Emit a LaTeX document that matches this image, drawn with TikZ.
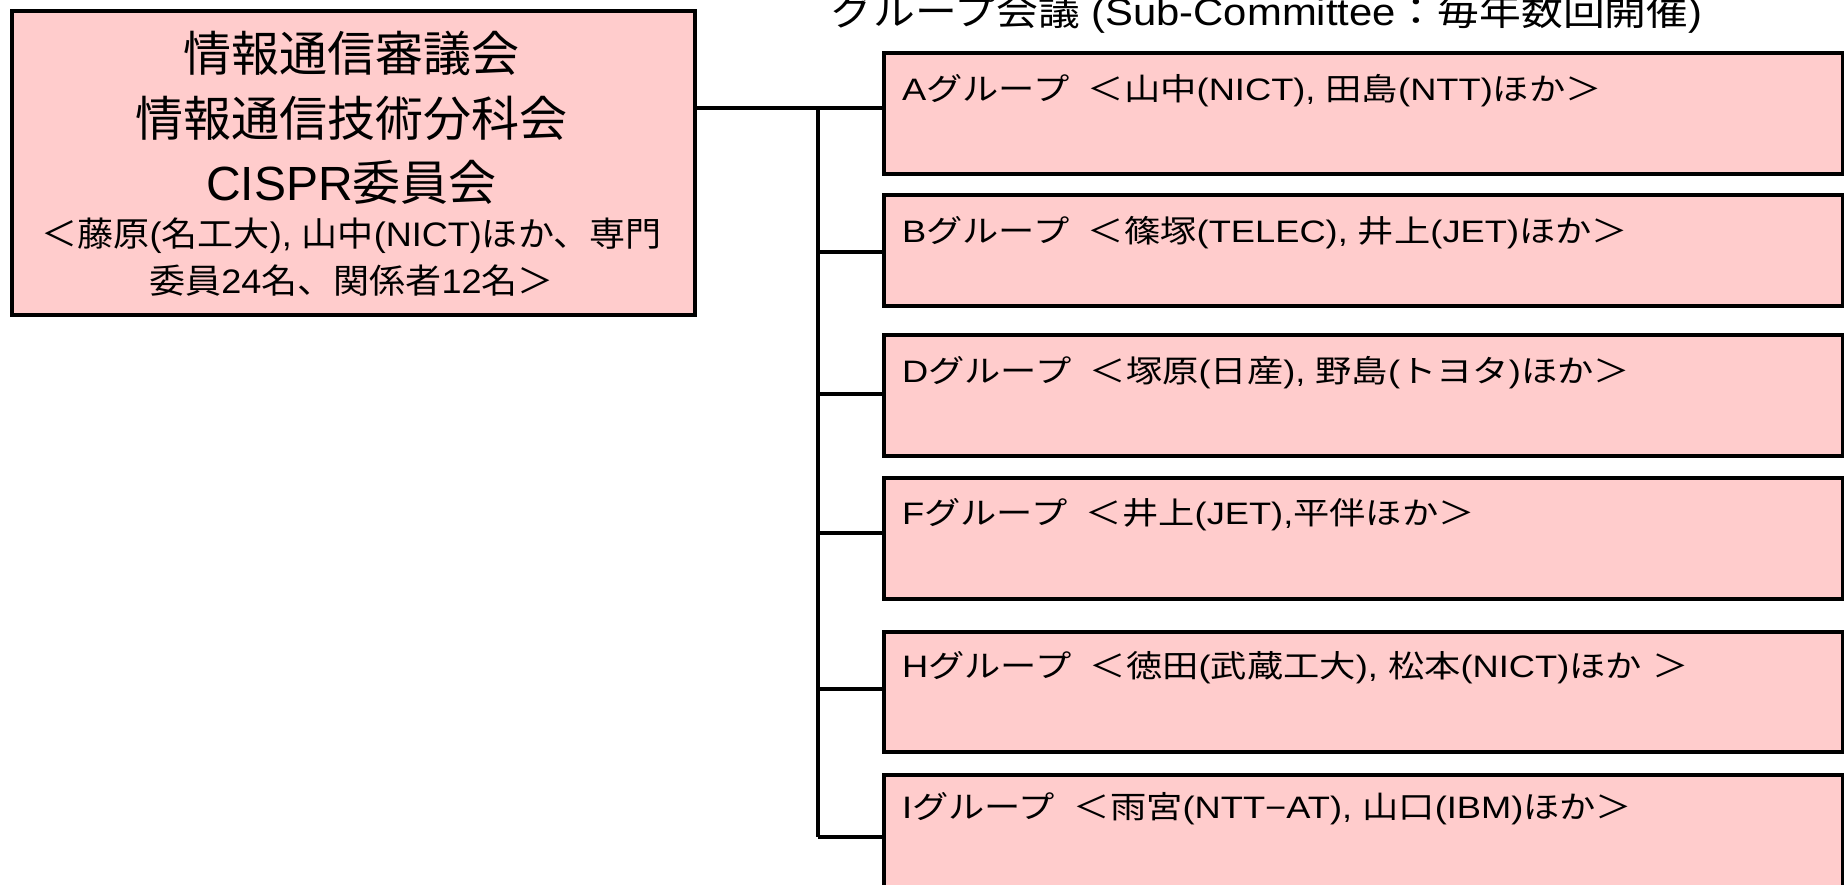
\documentclass[tikz,border=0pt]{standalone}
\usepackage{fontspec}
\setmainfont{Liberation Sans}
\newfontfamily\latinA{Liberation Sans}
\newfontfamily\cjkA{Noto Sans CJK JP}
\newfontfamily\latinB{Liberation Sans}[FakeStretch=1.17]
\newfontfamily\cjkB{Noto Sans CJK JP}[FakeStretch=1.17]
\newfontfamily\latinC{Liberation Sans}[FakeStretch=1.06]
\newfontfamily\cjkC{Noto Sans CJK JP}[FakeStretch=1.06]
\newfontfamily\latinD{Liberation Sans}[FakeStretch=1.1]
\newfontfamily\cjkD{Noto Sans CJK JP}[FakeStretch=1.1]
\let\cjksw\cjkA
\let\latsw\latinA
\XeTeXinterchartokenstate=1
\newXeTeXintercharclass\cjkcls
\newcount\cjkcc
\def\cjksetrange#1#2{\cjkcc=#1\relax\loop\XeTeXcharclass\cjkcc=\cjkcls\relax\ifnum\cjkcc<#2\relax\advance\cjkcc by 1\relax\repeat}
\cjksetrange{"3000}{"30FF}
\cjksetrange{"4E00}{"9FFF}
\cjksetrange{"FF00}{"FFEF}
\XeTeXinterchartoks 0 \cjkcls = {\cjksw}
\XeTeXinterchartoks 4095 \cjkcls = {\cjksw}
\XeTeXinterchartoks \cjkcls 0 = {\latsw}
\XeTeXinterchartoks \cjkcls 4095 = {\latsw}
\definecolor{pinkfill}{HTML}{FFCCCC}
\begin{document}
\begin{tikzpicture}[x=1pt,y=-1pt,
  box/.style={draw=black, line width=4.2pt, fill=pinkfill, inner sep=0pt, anchor=north west, minimum width=959pt},
  conn/.style={draw=black, line width=3.2pt},
  bigtxt/.style={inner sep=0pt, font=\fontsize{48}{56}\selectfont},
  smalltxt/.style={inner sep=0pt, font=\fontsize{34}{40}\let\cjksw\cjkC\let\latsw\latinC\selectfont\latinC},
  grptxt/.style={inner sep=0pt, anchor=west, font=\fontsize{31}{36}\let\cjksw\cjkB\let\latsw\latinB\selectfont\latinB},
  titletxt/.style={inner sep=0pt, anchor=base, font=\fontsize{38}{44}\let\cjksw\cjkD\let\latsw\latinD\selectfont\latinD}]
\useasboundingbox (0,0) rectangle (1844,884);
% main committee box
\node[box, minimum width=683pt, minimum height=304pt] (main) at (10,9) {};
\node[bigtxt] (m1) at (351.5,53) {情報通信審議会};
\node[bigtxt] (m2) at (351.5,118) {情報通信技術分科会};
\node[bigtxt] (m3) at (351.5,182) {CISPR委員会};
\node[smalltxt] (m4) at (351.5,236) {＜藤原(名工大), 山中(NICT)ほか、専門};
\node[smalltxt] (m5) at (351.5,281) {委員24名、関係者12名＞};
% title
\node[titletxt] (title) at (1267,25) {グループ会議 (Sub-Committee：毎年数回開催)};
% group boxes
\node[box, minimum height=121pt] (A) at (882,51) {};
\node[box, minimum height=111pt] (B) at (882,193) {};
\node[box, minimum height=121pt] (D) at (882,333) {};
\node[box, minimum height=121pt] (F) at (882,476) {};
\node[box, minimum height=120pt] (H) at (882,630) {};
\node[box, minimum height=128pt] (I) at (882,773) {};
\node[grptxt] (tA) at (902,91) {Aグループ\hspace{0.6em}＜山中(NICT), 田島(NTT)ほか＞};
\node[grptxt] (tB) at (902,233) {Bグループ\hspace{0.6em}＜篠塚(TELEC), 井上(JET)ほか＞};
\node[grptxt] (tD) at (902,373) {Dグループ\hspace{0.6em}＜塚原(日産), 野島(トヨタ)ほか＞};
\node[grptxt] (tF) at (902,515) {Fグループ\hspace{0.6em}＜井上(JET),平伴ほか＞};
\node[grptxt] (tH) at (902,668) {Hグループ\hspace{0.6em}＜徳田(武蔵工大), 松本(NICT)ほか ＞};
\node[grptxt] (tI) at (902,809) {Iグループ\hspace{0.6em}＜雨宮(NTT−AT), 山口(IBM)ほか＞};
% junction points on the trunk
\coordinate (jA) at (818,108);
\coordinate (jB) at (818,252);
\coordinate (jD) at (818,394);
\coordinate (jF) at (818,533);
\coordinate (jH) at (818,689);
\coordinate (jI) at (818,837);
% connectors
\draw[conn] (main.east |- jA) -- (A.west |- jA);
\draw[conn] (jA) -- (jI);
\draw[conn] (jB) -- (B.west |- jB);
\draw[conn] (jD) -- (D.west |- jD);
\draw[conn] (jF) -- (F.west |- jF);
\draw[conn] (jH) -- (H.west |- jH);
\draw[conn] (jI) -- (I.west |- jI);
\end{tikzpicture}
\end{document}
